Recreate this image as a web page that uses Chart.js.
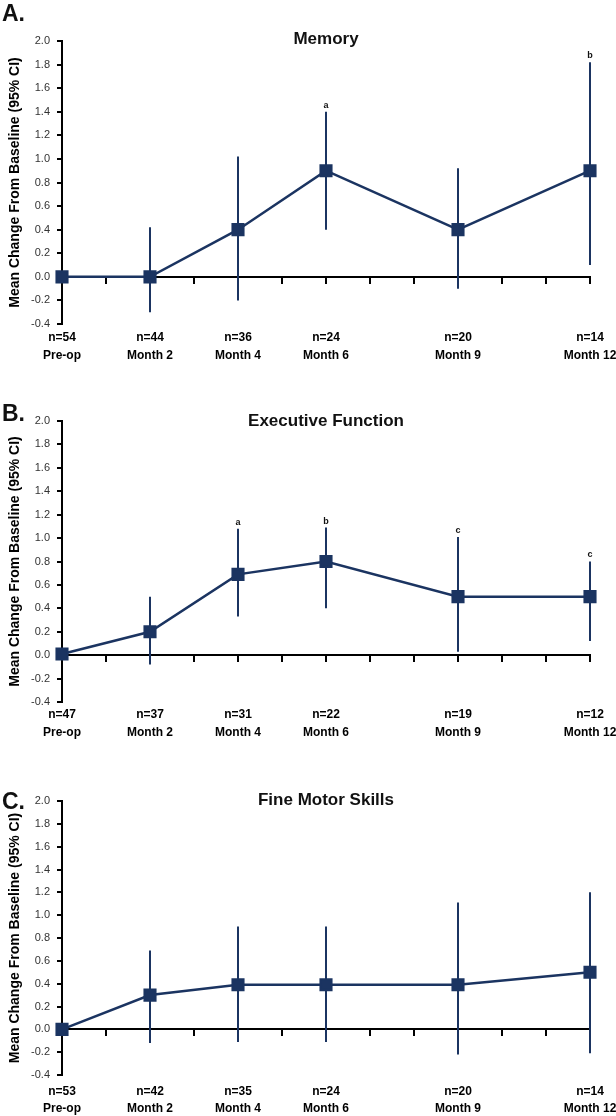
<!DOCTYPE html>
<html>
<head>
<meta charset="utf-8">
<script src="https://cdn.jsdelivr.net/npm/chart.js@4.4.0/dist/chart.umd.min.js"></script>
<style>
    body { margin: 0; background: #fff; font-family: "Liberation Sans", Arial, sans-serif; }
    #page { position: relative; width: 616px; height: 1116px; overflow: hidden; }
    .panel { position: absolute; left: 0; width: 616px; }
    .letter { position: absolute; left: 2px; font-size: 23px; font-weight: bold; color: #111; }
    .title { position: absolute; left: 226px; width: 200px; text-align: center; font-size: 17px; font-weight: bold; color: #111; white-space: nowrap; }
</style>
</head>
<body>
<div id="page">
    <div class="panel" style="top:0px"><canvas id="chartA" width="616" height="380"></canvas></div>
    <div class="panel" style="top:380px"><canvas id="chartB" width="616" height="376"></canvas></div>
    <div class="panel" style="top:756px"><canvas id="chartC" width="616" height="360"></canvas></div>

    <div class="letter" style="top:0px">A.</div>
    <div class="title" style="top:29px">Memory</div>
    <div class="letter" style="top:400px">B.</div>
    <div class="title" style="top:411px">Executive Function</div>
    <div class="letter" style="top:788px">C.</div>
    <div class="title" style="top:790px">Fine Motor Skills</div>
</div>

<script>
    // months after surgery (x positions) and their labels
    const months = [0, 2, 4, 6, 9, 12];
    const monthLabels = ['Pre-op', 'Month 2', 'Month 4', 'Month 6', 'Month 9', 'Month 12'];

    // Memory
    const memoryN = [54, 44, 36, 24, 20, 14];
    const memoryMean = [0, 0, 0.4, 0.9, 0.4, 0.9];
    const memoryLow = [null, -0.3, -0.2, 0.4, -0.1, 0.1];
    const memoryHigh = [null, 0.42, 1.02, 1.4, 0.92, 1.82];
    const memorySig = ['', '', '', 'a', '', 'b'];

    // Executive Function
    const execN = [47, 37, 31, 22, 19, 12];
    const execMean = [0.01, 0.2, 0.69, 0.8, 0.5, 0.5];
    const execLow = [null, -0.08, 0.33, 0.4, 0.03, 0.12];
    const execHigh = [null, 0.5, 1.08, 1.09, 1.01, 0.8];
    const execSig = ['', '', 'a', 'b', 'c', 'c'];

    // Fine Motor Skills
    const motorN = [53, 42, 35, 24, 20, 14];
    const motorMean = [0, 0.3, 0.39, 0.39, 0.39, 0.5];
    const motorLow = [null, -0.12, -0.11, -0.11, -0.22, -0.21];
    const motorHigh = [null, 0.69, 0.9, 0.9, 1.11, 1.2];
    const motorSig = ['', '', '', '', '', ''];

    const navy = '#1b3461';

    Chart.defaults.font.family = '"Liberation Sans", Arial, sans-serif';
    Chart.defaults.animation = false;

    // letters above the error bars
    const sigPlugin = {
        id: 'sigLetters',
        afterDatasetsDraw(chart, args, opts) {
            const ctx = chart.ctx;
            const xs = chart.scales.x;
            const ys = chart.scales.y;
            ctx.save();
            ctx.font = 'bold 9px "Liberation Sans", Arial, sans-serif';
            ctx.fillStyle = '#111';
            ctx.textAlign = 'center';
            ctx.textBaseline = 'bottom';
            opts.letters.forEach(function (l, i) {
                if (!l) return;
                ctx.fillText(l, xs.getPixelForValue(months[i]), ys.getPixelForValue(opts.high[i]) - 2);
            });
            ctx.restore();
        }
    };

    function makeChart(id, nList, mean, low, high, sig, padTop, plotBottom, labelPad, lineGap) {
        const canvas = document.getElementById(id);
        const H = canvas.height;

        const datasets = [{
            data: months.map((m, i) => ({ x: m, y: mean[i] })),
            borderColor: navy,
            backgroundColor: navy,
            borderWidth: 2.5,
            pointStyle: 'rect',
            pointRadius: 7.5,
            pointHoverRadius: 7.5,
            tension: 0,
            clip: false
        }];
        months.forEach(function (m, i) {
            if (low[i] === null) return;
            datasets.push({
                data: [{ x: m, y: low[i] }, { x: m, y: high[i] }],
                borderColor: navy,
                borderWidth: 2,
                pointRadius: 0,
                clip: false
            });
        });

        return new Chart(canvas, {
            type: 'line',
            data: { datasets: datasets },
            options: {
                responsive: false,
                layout: { padding: { top: padTop, right: 26, left: 0, bottom: 0 } },
                plugins: {
                    legend: { display: false },
                    tooltip: { enabled: false },
                    sigLetters: { letters: sig, high: high }
                },
                scales: {
                    x: {
                        type: 'linear',
                        min: 0,
                        max: 12,
                        position: { y: 0 },
                        ticks: { stepSize: 1, display: false },
                        grid: { drawOnChartArea: false, drawTicks: true, tickLength: 6, color: '#000', lineWidth: 2 },
                        border: { color: '#000', width: 2 }
                    },
                    x2: {
                        type: 'linear',
                        min: 0,
                        max: 12,
                        position: 'bottom',
                        afterBuildTicks: s => { s.ticks = months.map(v => ({ value: v })); },
                        ticks: {
                            autoSkip: false,
                            maxRotation: 0,
                            padding: labelPad,
                            color: '#000',
                            font: { size: 12, weight: 'bold', lineHeight: lineGap },
                            callback: (v, i) => ['n=' + nList[i], monthLabels[i]]
                        },
                        grid: { display: false, drawTicks: false },
                        border: { display: false },
                        afterFit: s => {
                            s.height = H - plotBottom;
                            s.paddingLeft = 0;
                            s.paddingRight = 0;
                        }
                    },
                    y: {
                        min: -0.4,
                        max: 2.0,
                        ticks: {
                            stepSize: 0.2,
                            padding: 7,
                            color: '#333',
                            font: { size: 11 },
                            callback: v => (Math.round(v * 10) / 10).toFixed(1)
                        },
                        grid: { drawOnChartArea: false, drawTicks: true, tickLength: 5, color: '#000', lineWidth: 2 },
                        border: { color: '#000', width: 2 },
                        title: {
                            display: true,
                            text: 'Mean Change From Baseline (95% CI)',
                            color: '#000',
                            font: { size: 14, weight: 'bold' },
                            padding: { top: 7, bottom: 0 }
                        },
                        afterFit: s => {
                            s.width = 62;
                            s.paddingTop = 0;
                            s.paddingBottom = 0;
                        }
                    }
                }
            },
            plugins: [sigPlugin]
        });
    }

    makeChart('chartA', memoryN, memoryMean, memoryLow, memoryHigh, memorySig, 41, 324, 4, 1.55);
    makeChart('chartB', execN, execMean, execLow, execHigh, execSig, 41, 322, 3, 1.55);
    makeChart('chartC', motorN, motorMean, motorLow, motorHigh, motorSig, 45, 319, 8, 1.4);
</script>
</body>
</html>
